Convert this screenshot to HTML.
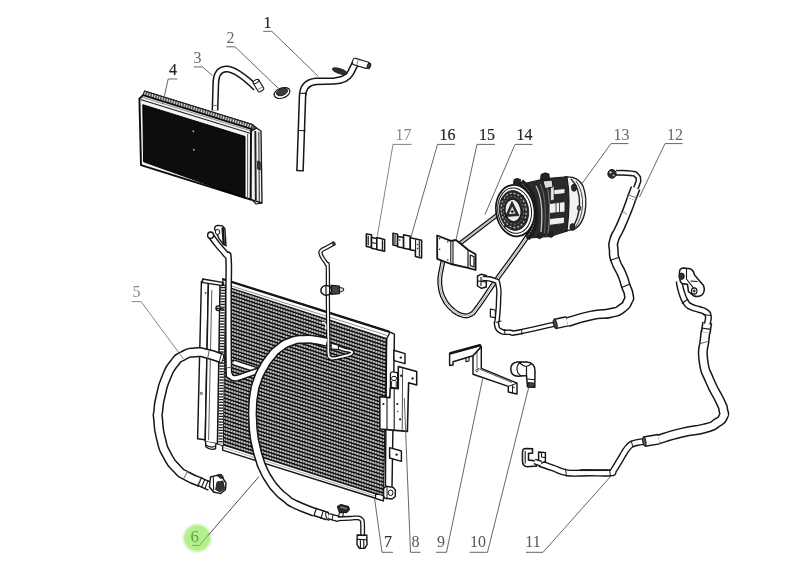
<!DOCTYPE html>
<html><head><meta charset="utf-8"><title>AC system diagram</title>
<style>
html,body{margin:0;padding:0;background:#fff;}
body{width:800px;height:587px;overflow:hidden;font-family:"Liberation Serif",serif;}
svg{display:block;}
text{font-family:"Liberation Serif",serif;}
</style></head><body>
<svg width="800" height="587" viewBox="0 0 800 587">
<defs>
<filter id="soft" x="-5%" y="-5%" width="110%" height="110%"><feGaussianBlur stdDeviation="0.45"/></filter>
<filter id="soft2" x="-20%" y="-20%" width="140%" height="140%"><feGaussianBlur stdDeviation="0.9"/></filter>
<filter id="soft3" x="-5%" y="-5%" width="110%" height="110%"><feGaussianBlur stdDeviation="0.25"/></filter>
</defs>
<rect width="800" height="587" fill="#fff"/>
<g filter="url(#soft)">
<polygon points="250.6,130 256.5,128 261,131 262,203 250.6,199.5" fill="#f2f2f2" stroke="#141414" stroke-width="1.32" stroke-linejoin="round" />
<path d="M255.3,131 L255.8,200.5" fill="none" stroke="#222" stroke-width="1.92" stroke-linejoin="round" />
<path d="M258.8,132 L259.3,202" fill="none" stroke="#333" stroke-width="1.08" stroke-linejoin="round" />
<polygon points="257.5,161 260.3,162 260.3,170 257.5,169" fill="#333" stroke="#141414" stroke-width="0.72" stroke-linejoin="round" />
<path d="M252,199.8 L256,204 L262,203" fill="none" stroke="#141414" stroke-width="1.2" stroke-linejoin="round" />
<polygon points="144.5,91 252.5,124.5 256.5,128 251,131.5 143,95.2" fill="#555" stroke="#141414" stroke-width="1.08" stroke-linejoin="round" />
<path d="M145.5,91.6 l-1.2,4" fill="none" stroke="#e2e2e2" stroke-width="1.08" stroke-linejoin="round" />
<path d="M148.0,92.4 l-1.2,4" fill="none" stroke="#e2e2e2" stroke-width="1.08" stroke-linejoin="round" />
<path d="M150.4,93.1 l-1.2,4" fill="none" stroke="#e2e2e2" stroke-width="1.08" stroke-linejoin="round" />
<path d="M152.9,93.9 l-1.2,4" fill="none" stroke="#e2e2e2" stroke-width="1.08" stroke-linejoin="round" />
<path d="M155.3,94.6 l-1.2,4" fill="none" stroke="#e2e2e2" stroke-width="1.08" stroke-linejoin="round" />
<path d="M157.8,95.4 l-1.2,4" fill="none" stroke="#e2e2e2" stroke-width="1.08" stroke-linejoin="round" />
<path d="M160.2,96.2 l-1.2,4" fill="none" stroke="#e2e2e2" stroke-width="1.08" stroke-linejoin="round" />
<path d="M162.7,96.9 l-1.2,4" fill="none" stroke="#e2e2e2" stroke-width="1.08" stroke-linejoin="round" />
<path d="M165.1,97.7 l-1.2,4" fill="none" stroke="#e2e2e2" stroke-width="1.08" stroke-linejoin="round" />
<path d="M167.6,98.5 l-1.2,4" fill="none" stroke="#e2e2e2" stroke-width="1.08" stroke-linejoin="round" />
<path d="M170.0,99.2 l-1.2,4" fill="none" stroke="#e2e2e2" stroke-width="1.08" stroke-linejoin="round" />
<path d="M172.5,100.0 l-1.2,4" fill="none" stroke="#e2e2e2" stroke-width="1.08" stroke-linejoin="round" />
<path d="M175.0,100.7 l-1.2,4" fill="none" stroke="#e2e2e2" stroke-width="1.08" stroke-linejoin="round" />
<path d="M177.4,101.5 l-1.2,4" fill="none" stroke="#e2e2e2" stroke-width="1.08" stroke-linejoin="round" />
<path d="M179.9,102.3 l-1.2,4" fill="none" stroke="#e2e2e2" stroke-width="1.08" stroke-linejoin="round" />
<path d="M182.3,103.0 l-1.2,4" fill="none" stroke="#e2e2e2" stroke-width="1.08" stroke-linejoin="round" />
<path d="M184.8,103.8 l-1.2,4" fill="none" stroke="#e2e2e2" stroke-width="1.08" stroke-linejoin="round" />
<path d="M187.2,104.5 l-1.2,4" fill="none" stroke="#e2e2e2" stroke-width="1.08" stroke-linejoin="round" />
<path d="M189.7,105.3 l-1.2,4" fill="none" stroke="#e2e2e2" stroke-width="1.08" stroke-linejoin="round" />
<path d="M192.1,106.1 l-1.2,4" fill="none" stroke="#e2e2e2" stroke-width="1.08" stroke-linejoin="round" />
<path d="M194.6,106.8 l-1.2,4" fill="none" stroke="#e2e2e2" stroke-width="1.08" stroke-linejoin="round" />
<path d="M197.0,107.6 l-1.2,4" fill="none" stroke="#e2e2e2" stroke-width="1.08" stroke-linejoin="round" />
<path d="M199.5,108.3 l-1.2,4" fill="none" stroke="#e2e2e2" stroke-width="1.08" stroke-linejoin="round" />
<path d="M202.0,109.1 l-1.2,4" fill="none" stroke="#e2e2e2" stroke-width="1.08" stroke-linejoin="round" />
<path d="M204.4,109.9 l-1.2,4" fill="none" stroke="#e2e2e2" stroke-width="1.08" stroke-linejoin="round" />
<path d="M206.9,110.6 l-1.2,4" fill="none" stroke="#e2e2e2" stroke-width="1.08" stroke-linejoin="round" />
<path d="M209.3,111.4 l-1.2,4" fill="none" stroke="#e2e2e2" stroke-width="1.08" stroke-linejoin="round" />
<path d="M211.8,112.2 l-1.2,4" fill="none" stroke="#e2e2e2" stroke-width="1.08" stroke-linejoin="round" />
<path d="M214.2,112.9 l-1.2,4" fill="none" stroke="#e2e2e2" stroke-width="1.08" stroke-linejoin="round" />
<path d="M216.7,113.7 l-1.2,4" fill="none" stroke="#e2e2e2" stroke-width="1.08" stroke-linejoin="round" />
<path d="M219.1,114.4 l-1.2,4" fill="none" stroke="#e2e2e2" stroke-width="1.08" stroke-linejoin="round" />
<path d="M221.6,115.2 l-1.2,4" fill="none" stroke="#e2e2e2" stroke-width="1.08" stroke-linejoin="round" />
<path d="M224.0,116.0 l-1.2,4" fill="none" stroke="#e2e2e2" stroke-width="1.08" stroke-linejoin="round" />
<path d="M226.5,116.7 l-1.2,4" fill="none" stroke="#e2e2e2" stroke-width="1.08" stroke-linejoin="round" />
<path d="M229.0,117.5 l-1.2,4" fill="none" stroke="#e2e2e2" stroke-width="1.08" stroke-linejoin="round" />
<path d="M231.4,118.2 l-1.2,4" fill="none" stroke="#e2e2e2" stroke-width="1.08" stroke-linejoin="round" />
<path d="M233.9,119.0 l-1.2,4" fill="none" stroke="#e2e2e2" stroke-width="1.08" stroke-linejoin="round" />
<path d="M236.3,119.8 l-1.2,4" fill="none" stroke="#e2e2e2" stroke-width="1.08" stroke-linejoin="round" />
<path d="M238.8,120.5 l-1.2,4" fill="none" stroke="#e2e2e2" stroke-width="1.08" stroke-linejoin="round" />
<path d="M241.2,121.3 l-1.2,4" fill="none" stroke="#e2e2e2" stroke-width="1.08" stroke-linejoin="round" />
<path d="M243.7,122.1 l-1.2,4" fill="none" stroke="#e2e2e2" stroke-width="1.08" stroke-linejoin="round" />
<path d="M246.1,122.8 l-1.2,4" fill="none" stroke="#e2e2e2" stroke-width="1.08" stroke-linejoin="round" />
<path d="M248.6,123.6 l-1.2,4" fill="none" stroke="#e2e2e2" stroke-width="1.08" stroke-linejoin="round" />
<path d="M251.0,124.3 l-1.2,4" fill="none" stroke="#e2e2e2" stroke-width="1.08" stroke-linejoin="round" />
<path d="M144.5,91 L252.5,124.5" fill="none" stroke="#222" stroke-width="1.2" stroke-linejoin="round" />
<polygon points="139.4,98.7 143,95.2 251,128.8 250.6,199.5 141,165.2" fill="#f4f4f4" stroke="#111" stroke-width="1.92" stroke-linejoin="round" />
<path d="M140.5,99.5 L250,133.2" fill="none" stroke="#222" stroke-width="1.2" stroke-linejoin="round" />
<path d="M141.5,97 L250.5,130.8" fill="none" stroke="#777" stroke-width="0.84" stroke-linejoin="round" />
<polygon points="142.8,104.7 245,136.5 245,198 143.6,161.8" fill="#080808" stroke="#000" stroke-width="0.96" stroke-linejoin="round" />
<path d="M247.6,134 L247.6,198.5" fill="none" stroke="#555" stroke-width="0.96" stroke-linejoin="round" />
<circle cx="193.3" cy="131.2" r="1" fill="#aaa"/><circle cx="193.8" cy="149.8" r="1" fill="#aaa"/>
<path d="M215,110.5 L215.8,84 Q216,69.5 226,69 Q236,68.5 256,88" fill="none" stroke="#141414" stroke-width="6.8999999999999995" stroke-linecap="butt" stroke-linejoin="round"/>
<path d="M215,110.5 L215.8,84 Q216,69.5 226,69 Q236,68.5 256,88" fill="none" stroke="#fff" stroke-width="3.9099999999999997" stroke-linecap="butt" stroke-linejoin="round"/>
<path d="M212.5,105.3 L218,105.6" fill="none" stroke="#666" stroke-width="0.96" stroke-linejoin="round" />
<g transform="rotate(59 255.5 80.5)">
<rect x="255.5" y="77.4" width="12" height="6.4" rx="1.5" fill="#fff" stroke="#1c1c1c" stroke-width="1.15"/>
<ellipse cx="256.6" cy="80.6" rx="1.6" ry="3.2" transform="rotate(0 256.6 80.6)" fill="#fff" stroke="#141414" stroke-width="1.0"/>
<path d="M264.5,78 L264.5,83.5" fill="none" stroke="#777" stroke-width="0.84" stroke-linejoin="round" />
</g>
<ellipse cx="282" cy="93" rx="8.2" ry="5" transform="rotate(-20 282 93)" fill="#fff" stroke="#141414" stroke-width="1.2"/>
<ellipse cx="282" cy="92" rx="5.8" ry="3.4" transform="rotate(-20 282 92)" fill="#3a3a3a" stroke="#141414" stroke-width="0.8"/>
<path d="M300,170.8 L302.5,97 Q302.6,82.5 316,81.3 L334,81 Q346,80.5 350.5,73 L355.5,63" fill="none" stroke="#141414" stroke-width="7.7" stroke-linecap="butt" stroke-linejoin="round"/>
<path d="M300,170.8 L302.5,97 Q302.6,82.5 316,81.3 L334,81 Q346,80.5 350.5,73 L355.5,63" fill="none" stroke="#fff" stroke-width="4.710000000000001" stroke-linecap="butt" stroke-linejoin="round"/>
<path d="M296.4,170.5 L303.8,170.9" fill="none" stroke="#141414" stroke-width="1.32" stroke-linejoin="round" />
<path d="M298.5,130.5 L305.6,130.8" fill="none" stroke="#141414" stroke-width="1.08" stroke-linejoin="round" />
<path d="M299,93.2 L306.3,93.4" fill="none" stroke="#141414" stroke-width="1.08" stroke-linejoin="round" />
<g transform="rotate(17 356 62)">
<rect x="352.5" y="58.6" width="17" height="6.6" rx="2.2" fill="#fff" stroke="#1c1c1c" stroke-width="1.15"/>
<ellipse cx="369.5" cy="61.9" rx="1.7" ry="3.1" transform="rotate(0 369.5 61.9)" fill="#3a3a3a" stroke="#141414" stroke-width="0.9"/>
<path d="M357.5,59 L357.5,65" fill="none" stroke="#777" stroke-width="0.84" stroke-linejoin="round" />
</g>
<ellipse cx="339.8" cy="71.2" rx="7.8" ry="2.5" transform="rotate(18 339.8 71.2)" fill="#2e2e2e" stroke="#141414" stroke-width="0.8"/>
<polygon points="366.3,234 371.5,234.8 371.5,247.6 366.3,246.6" fill="#fff" stroke="#141414" stroke-width="1.56" stroke-linejoin="round" />
<polygon points="371.5,237.6 376.8,238.6 376.8,249.2 371.5,248.2" fill="#fff" stroke="#141414" stroke-width="1.56" stroke-linejoin="round" />
<polygon points="376.8,237.6 384.6,239.4 384.6,251.2 376.8,249.6" fill="#fff" stroke="#141414" stroke-width="1.56" stroke-linejoin="round" />
<path d="M368.2,236 L368.2,245.2 M382.4,240.2 L382.4,250" fill="none" stroke="#141414" stroke-width="1.2" stroke-linejoin="round" />
<path d="M371.5,242.5 L376.8,243.5" fill="none" stroke="#141414" stroke-width="1.08" stroke-linejoin="round" />
<polygon points="393,233.3 397.6,234.3 397.6,246 393,245" fill="#fff" stroke="#141414" stroke-width="1.56" stroke-linejoin="round" />
<polygon points="397.6,236.4 403.6,237.6 403.6,248 397.6,246.8" fill="#fff" stroke="#141414" stroke-width="1.56" stroke-linejoin="round" />
<polygon points="403.6,234.8 410.3,236.3 410.3,249.6 403.6,248.3" fill="#fff" stroke="#141414" stroke-width="1.56" stroke-linejoin="round" />
<polygon points="410.3,237.8 421.6,240.2 421.6,258 415.4,256.6 415.4,250.8 410.3,249.8" fill="#fff" stroke="#141414" stroke-width="1.56" stroke-linejoin="round" />
<path d="M395,235 L395,244.5 M415.6,239.5 L415.6,251 M419.3,240.5 L419.3,256.5" fill="none" stroke="#141414" stroke-width="1.08" stroke-linejoin="round" />
<circle cx="399.8" cy="240" r="0.8" fill="#222"/><circle cx="417.6" cy="244.5" r="0.7" fill="#222"/><circle cx="417.6" cy="248.5" r="0.7" fill="#222"/>
<path d="M443.6,258.0 C442.9,261.3 442.8,262.0 441.6,268.0 C440.4,274.0 440.7,271.7 440.1,276.0 C439.5,280.3 439.8,277.7 439.8,281.0 C439.8,284.3 439.5,282.0 440.1,286.0 C440.7,290.0 440.2,288.6 441.5,293.0 C442.8,297.4 442.1,295.2 444.1,299.1 C446.1,303.0 444.9,301.2 447.6,304.6 C450.3,308.0 449.1,306.6 452.1,309.3 C455.1,312.0 453.4,310.9 456.6,312.8 C459.8,314.7 458.6,314.0 461.6,315.0 C464.6,316.0 463.0,315.7 465.5,315.8 C468.0,315.9 466.8,316.0 469.1,315.2 C471.4,314.4 470.4,314.9 472.4,313.3 C474.4,311.7 471.1,315.8 475.1,310.5 C479.1,305.2 477.9,307.0 484.5,297.4 C491.1,287.8 485.7,295.1 495.0,281.8 C504.3,268.5 501.8,272.5 512.5,257.6 C523.2,242.7 522.2,243.9 527.0,237.0" fill="none" stroke="#141414" stroke-width="4.8999999999999995" stroke-linecap="butt" stroke-linejoin="round"/>
<path d="M443.6,258.0 C442.9,261.3 442.8,262.0 441.6,268.0 C440.4,274.0 440.7,271.7 440.1,276.0 C439.5,280.3 439.8,277.7 439.8,281.0 C439.8,284.3 439.5,282.0 440.1,286.0 C440.7,290.0 440.2,288.6 441.5,293.0 C442.8,297.4 442.1,295.2 444.1,299.1 C446.1,303.0 444.9,301.2 447.6,304.6 C450.3,308.0 449.1,306.6 452.1,309.3 C455.1,312.0 453.4,310.9 456.6,312.8 C459.8,314.7 458.6,314.0 461.6,315.0 C464.6,316.0 463.0,315.7 465.5,315.8 C468.0,315.9 466.8,316.0 469.1,315.2 C471.4,314.4 470.4,314.9 472.4,313.3 C474.4,311.7 471.1,315.8 475.1,310.5 C479.1,305.2 477.9,307.0 484.5,297.4 C491.1,287.8 485.7,295.1 495.0,281.8 C504.3,268.5 501.8,272.5 512.5,257.6 C523.2,242.7 522.2,243.9 527.0,237.0" fill="none" stroke="#fff" stroke-width="2.2999999999999994" stroke-linecap="butt" stroke-linejoin="round"/>
<path d="M443.6,258.0 C442.9,261.3 442.8,262.0 441.6,268.0 C440.4,274.0 440.7,271.7 440.1,276.0 C439.5,280.3 439.8,277.7 439.8,281.0 C439.8,284.3 439.5,282.0 440.1,286.0 C440.7,290.0 440.2,288.6 441.5,293.0 C442.8,297.4 442.1,295.2 444.1,299.1 C446.1,303.0 444.9,301.2 447.6,304.6 C450.3,308.0 449.1,306.6 452.1,309.3 C455.1,312.0 453.4,310.9 456.6,312.8 C459.8,314.7 458.6,314.0 461.6,315.0 C464.6,316.0 463.0,315.7 465.5,315.8 C468.0,315.9 466.8,316.0 469.1,315.2 C471.4,314.4 470.4,314.9 472.4,313.3 C474.4,311.7 471.1,315.8 475.1,310.5 C479.1,305.2 477.9,307.0 484.5,297.4 C491.1,287.8 485.7,295.1 495.0,281.8 C504.3,268.5 501.8,272.5 512.5,257.6 C523.2,242.7 522.2,243.9 527.0,237.0" fill="none" stroke="#777" stroke-width="0.72" stroke-linejoin="round" />
<path d="M456,246.5 L498.5,214" fill="none" stroke="#141414" stroke-width="4.5" stroke-linecap="butt" stroke-linejoin="round"/>
<path d="M456,246.5 L498.5,214" fill="none" stroke="#fff" stroke-width="1.9" stroke-linecap="butt" stroke-linejoin="round"/>
<path d="M456,246.5 L498.5,214" fill="none" stroke="#777" stroke-width="0.72" stroke-linejoin="round" />
<polygon points="477.5,276 481,274.3 486.3,275.5 486.3,287 481.5,288.3 477.5,286" fill="#fff" stroke="#141414" stroke-width="1.44" stroke-linejoin="round" />
<path d="M481,277 L481,286 M478,281 L486,282" fill="none" stroke="#141414" stroke-width="1.08" stroke-linejoin="round" />
<path d="M482.8,278.3 C486.2,278.9 489.5,278.0 494.1,280.2 C498.7,282.4 496.8,279.7 498.2,285.6 C499.6,291.5 498.8,290.3 498.6,300.0 C498.4,309.7 498.0,310.6 497.4,318.0 C496.8,325.4 495.6,320.6 496.6,324.5 C497.6,328.4 496.6,328.7 500.6,331.0 C504.6,333.3 504.3,332.0 510.0,332.3 C515.7,332.6 506.1,334.5 519.5,332.0 C532.9,329.5 544.0,326.5 554.5,324.1" fill="none" stroke="#141414" stroke-width="5.5" stroke-linecap="butt" stroke-linejoin="round"/>
<path d="M482.8,278.3 C486.2,278.9 489.5,278.0 494.1,280.2 C498.7,282.4 496.8,279.7 498.2,285.6 C499.6,291.5 498.8,290.3 498.6,300.0 C498.4,309.7 498.0,310.6 497.4,318.0 C496.8,325.4 495.6,320.6 496.6,324.5 C497.6,328.4 496.6,328.7 500.6,331.0 C504.6,333.3 504.3,332.0 510.0,332.3 C515.7,332.6 506.1,334.5 519.5,332.0 C532.9,329.5 544.0,326.5 554.5,324.1" fill="none" stroke="#fff" stroke-width="2.7699999999999996" stroke-linecap="butt" stroke-linejoin="round"/>
<polygon points="490.4,309.2 495.4,310 495.4,317.6 490.4,316.8" fill="#fff" stroke="#141414" stroke-width="1.2" stroke-linejoin="round" />
<path d="M495.5,322.5 L501.5,321 M504.5,329 L505,334.6 M521.5,329.3 L522,334.6" fill="none" stroke="#141414" stroke-width="0.96" stroke-linejoin="round" />
<polygon points="437.2,235.5 450.8,240.8 456,240 468,249.8 475.6,254.2 475.6,270 468,267.8 450.8,264 437.2,258.8" fill="#fff" stroke="#141414" stroke-width="1.7999999999999998" stroke-linejoin="round" />
<path d="M450.8,240.8 L450.8,264 M453,241 L453,264.5" fill="none" stroke="#141414" stroke-width="1.08" stroke-linejoin="round" />
<path d="M468,249.8 L468,267.8" fill="none" stroke="#141414" stroke-width="1.2" stroke-linejoin="round" />
<polygon points="470.2,255 474,256.6 474,267 470.2,265.6" fill="#fff" stroke="#141414" stroke-width="1.2" stroke-linejoin="round" />
<circle cx="439.6" cy="238.6" r="0.8" fill="#222"/><circle cx="439.6" cy="249.2" r="0.8" fill="#222"/><circle cx="447.8" cy="241.8" r="0.8" fill="#222"/><circle cx="447.8" cy="260" r="0.8" fill="#222"/>
<path d="M554.5,324.1 L567.3,321.3" fill="none" stroke="#141414" stroke-width="10.700000000000001" stroke-linecap="butt" stroke-linejoin="round"/>
<path d="M554.5,324.1 L567.3,321.3" fill="none" stroke="#fff" stroke-width="7.840000000000001" stroke-linecap="butt" stroke-linejoin="round"/>
<ellipse cx="555.2" cy="324" rx="1.8" ry="4.6" transform="rotate(-12 555.2 324)" fill="#444" stroke="#141414" stroke-width="0.9"/>
<path d="M567.3,322.2 C575.2,320.0 576.5,318.7 591.0,315.6 C605.5,312.5 600.4,315.4 610.7,313.0 C621.0,310.6 616.1,312.4 621.8,308.5 C627.5,304.6 625.5,305.9 627.8,301.4 C630.1,296.9 629.5,300.3 628.8,295.0 C628.1,289.7 628.0,292.5 625.7,285.5 C623.4,278.5 625.2,282.3 621.8,274.1 C618.4,265.9 618.3,269.0 615.6,261.0 C612.9,253.0 614.2,257.0 613.7,250.0 C613.2,243.0 612.2,247.3 614.2,240.0 C616.2,232.7 615.5,237.7 619.8,228.0 C624.1,218.3 623.1,220.7 627.0,211.0 C630.9,201.3 629.9,203.0 631.4,199.0" fill="none" stroke="#141414" stroke-width="10.100000000000001" stroke-linecap="butt" stroke-linejoin="round"/>
<path d="M567.3,322.2 C575.2,320.0 576.5,318.7 591.0,315.6 C605.5,312.5 600.4,315.4 610.7,313.0 C621.0,310.6 616.1,312.4 621.8,308.5 C627.5,304.6 625.5,305.9 627.8,301.4 C630.1,296.9 629.5,300.3 628.8,295.0 C628.1,289.7 628.0,292.5 625.7,285.5 C623.4,278.5 625.2,282.3 621.8,274.1 C618.4,265.9 618.3,269.0 615.6,261.0 C612.9,253.0 614.2,257.0 613.7,250.0 C613.2,243.0 612.2,247.3 614.2,240.0 C616.2,232.7 615.5,237.7 619.8,228.0 C624.1,218.3 623.1,220.7 627.0,211.0 C630.9,201.3 629.9,203.0 631.4,199.0" fill="none" stroke="#fff" stroke-width="7.110000000000001" stroke-linecap="butt" stroke-linejoin="round"/>
<path d="M635.4,189.0 C636.1,187.2 636.6,186.7 637.6,183.5 C638.6,180.3 638.8,182.2 638.4,179.5 C638.0,176.8 639.0,177.5 636.5,175.4 C634.0,173.3 637.8,174.2 631.0,173.3 C624.2,172.4 621.0,173.0 616.0,172.8" fill="none" stroke="#141414" stroke-width="5.8999999999999995" stroke-linecap="butt" stroke-linejoin="round"/>
<path d="M635.4,189.0 C636.1,187.2 636.6,186.7 637.6,183.5 C638.6,180.3 638.8,182.2 638.4,179.5 C638.0,176.8 639.0,177.5 636.5,175.4 C634.0,173.3 637.8,174.2 631.0,173.3 C624.2,172.4 621.0,173.0 616.0,172.8" fill="none" stroke="#fff" stroke-width="3.039999999999999" stroke-linecap="butt" stroke-linejoin="round"/>
<path d="M631.4,199 L635.6,188" fill="none" stroke="#141414" stroke-width="10.3" stroke-linecap="butt" stroke-linejoin="round"/>
<path d="M631.4,199 L635.6,188" fill="none" stroke="#fff" stroke-width="7.3100000000000005" stroke-linecap="butt" stroke-linejoin="round"/>
<path d="M627.2,194.4 L637,198.2" fill="none" stroke="#666" stroke-width="0.96" stroke-linejoin="round" />
<path d="M609.8,260.5 L618.6,257.6 M621,287.8 L630,284" fill="none" stroke="#141414" stroke-width="1.08" stroke-linejoin="round" />
<path d="M620,213.5 L624.5,212 L626.5,215" fill="none" stroke="#777" stroke-width="0.84" stroke-linejoin="round" />
<ellipse cx="612" cy="173.8" rx="4.2" ry="4.4" transform="rotate(0 612 173.8)" fill="#2a2a2a" stroke="#141414" stroke-width="0.9"/>
<ellipse cx="610.6" cy="172.4" rx="1.4" ry="1.4" transform="rotate(0 610.6 172.4)" fill="#ddd" stroke="#141414" stroke-width="0.5"/>
<ellipse cx="613.6" cy="175.4" rx="1.2" ry="1.2" transform="rotate(0 613.6 175.4)" fill="#ccc" stroke="#141414" stroke-width="0.5"/>
<path d="M565,177 Q578,176 583,186 Q587.5,198 585,212 Q582.5,224 575,229 L566,231 Z" fill="#f2f2f2" stroke="#1a1a1a" stroke-width="1.3"/>
<path d="M571,179 Q580,188 579.5,204 Q579,220 571,229.5" fill="none" stroke="#222" stroke-width="1.4"/>
<path d="M576,181 Q583.5,192 582.5,206 Q581.5,219 575.5,227" fill="none" stroke="#333" stroke-width="0.9"/>
<ellipse cx="574" cy="187.7" rx="2.6" ry="3.6" transform="rotate(0 574 187.7)" fill="#2a2a2a" stroke="#141414" stroke-width="0.8"/>
<ellipse cx="572.5" cy="227" rx="2.6" ry="3.4" transform="rotate(0 572.5 227)" fill="#2a2a2a" stroke="#141414" stroke-width="0.8"/>
<ellipse cx="579" cy="208" rx="1.8" ry="2.6" transform="rotate(0 579 208)" fill="#555" stroke="#141414" stroke-width="0.7"/>
<path d="M522,184 L546,178.5 L567,177 Q571,200 567,231 L550,236.5 L527,238 Z" fill="#2b2b2b" stroke="#1a1a1a" stroke-width="1.2"/>
<polygon points="551.2,189.8 565,188.6 565,193.6 551.2,195" fill="#f0f0f0" stroke="#141414" stroke-width="0.84" stroke-linejoin="round" />
<polygon points="549.3,203.6 565,201.6 565,212 549.3,213.4" fill="#f0f0f0" stroke="#141414" stroke-width="0.84" stroke-linejoin="round" />
<polygon points="549.3,218.6 564.4,217 564.4,223.4 549.3,225.4" fill="#f0f0f0" stroke="#141414" stroke-width="0.84" stroke-linejoin="round" />
<path d="M556,203 L556,213 M559.5,202.5 L559.5,212.5" fill="none" stroke="#444" stroke-width="0.96" stroke-linejoin="round" />
<path d="M536,186 Q544,200 541,232" fill="none" stroke="#c8c8c8" stroke-width="1.3"/>
<path d="M540.5,184 Q547.5,200 544.5,233" fill="none" stroke="#777" stroke-width="0.8"/>
<polygon points="550.6,186 554,185.6 554,200 550.6,200.6" fill="#e8e8e8" stroke="#141414" stroke-width="0.6" stroke-linejoin="round" />
<path d="M546,181 Q552,204 548,234" fill="none" stroke="#8a8a8a" stroke-width="0.9"/>
<path d="M540.5,180 L541,174.5 Q545,171.5 549,174 L549.5,180 Z" fill="#222" stroke="#111" stroke-width="0.8"/>
<path d="M513.5,184 L514,179.5 Q517,177.5 520.5,179.5 L521,185 Z" fill="#222" stroke="#111" stroke-width="0.8"/>
<polygon points="543,181 552,180 553,187 545,188.5" fill="#ddd" stroke="#141414" stroke-width="0.96" stroke-linejoin="round" />
<ellipse cx="551" cy="234.5" rx="2.6" ry="3" transform="rotate(0 551 234.5)" fill="#222" stroke="#141414" stroke-width="0.6"/>
<ellipse cx="539.5" cy="236" rx="2.4" ry="2.8" transform="rotate(0 539.5 236)" fill="#222" stroke="#141414" stroke-width="0.6"/>
<path d="M521,182 Q537,196 534.5,222 Q533,232 527,238" fill="none" stroke="#1a1a1a" stroke-width="6.5"/>
<path d="M522,183.5 Q536.5,197 534,221 Q532.5,231 527,236.5" fill="none" stroke="#bbb" stroke-width="0.9" stroke-dasharray="1.5 1.5"/>
<ellipse cx="515.2" cy="210.6" rx="19.2" ry="25.8" transform="rotate(-8 515.2 210.6)" fill="#fff" stroke="#141414" stroke-width="1.7"/>
<ellipse cx="514.6" cy="210.6" rx="16.8" ry="22.8" transform="rotate(-8 514.6 210.6)" fill="#fff" stroke="#141414" stroke-width="1.0"/>
<ellipse cx="514" cy="210.5" rx="14.6" ry="20" transform="rotate(-8 514 210.5)" fill="#2c2c2c" stroke="#141414" stroke-width="0.8"/>
<ellipse cx="513.7" cy="210.4" rx="12.4" ry="17.2" transform="rotate(-8 513.7 210.4)" fill="none" stroke="#b0b0b0" stroke-width="1.3" stroke-dasharray="2.2 1.8"/>
<ellipse cx="513.5" cy="210.4" rx="10" ry="14" transform="rotate(-8 513.5 210.4)" fill="none" stroke="#8a8a8a" stroke-width="0.9" stroke-dasharray="1.5 2.2"/>
<ellipse cx="513" cy="210.5" rx="8" ry="11.2" transform="rotate(-8 513 210.5)" fill="#ececec" stroke="#141414" stroke-width="1.0"/>
<path d="M512,201.6 L519,215.6 L505.6,216.4 Z" fill="#2a2a2a" stroke="#111" stroke-width="0.8" stroke-linejoin="round"/>
<path d="M512.2,206.6 L515.4,213.6 L509,214 Z" fill="#e8e8e8"/>
<circle cx="512.3" cy="211.6" r="1.4" fill="#222"/>
<circle cx="502.6" cy="199" r="1.6" fill="#222"/>
<circle cx="522.4" cy="196.4" r="1.6" fill="#222"/>
<circle cx="525.4" cy="220" r="1.6" fill="#222"/>
<circle cx="505.6" cy="226" r="1.6" fill="#222"/>
<path d="M539.5,463.3 C542.2,464.2 547.4,466.1 553.0,468.0 C558.6,469.9 560.3,471.9 567.5,472.9 C574.7,473.9 580.4,472.9 589.0,472.9 C597.6,472.9 605.5,473.4 610.4,472.9 C615.3,472.4 611.6,473.1 613.5,470.5 C615.4,467.9 617.2,464.5 620.0,460.0 C622.8,455.5 624.7,451.3 627.5,448.0 C630.3,444.7 630.4,444.6 634.0,443.3 C637.6,442.0 643.1,441.8 645.4,441.4" fill="none" stroke="#141414" stroke-width="7.1" stroke-linecap="butt" stroke-linejoin="round"/>
<path d="M539.5,463.3 C542.2,464.2 547.4,466.1 553.0,468.0 C558.6,469.9 560.3,471.9 567.5,472.9 C574.7,473.9 580.4,472.9 589.0,472.9 C597.6,472.9 605.5,473.4 610.4,472.9 C615.3,472.4 611.6,473.1 613.5,470.5 C615.4,467.9 617.2,464.5 620.0,460.0 C622.8,455.5 624.7,451.3 627.5,448.0 C630.3,444.7 630.4,444.6 634.0,443.3 C637.6,442.0 643.1,441.8 645.4,441.4" fill="none" stroke="#fff" stroke-width="4.369999999999999" stroke-linecap="butt" stroke-linejoin="round"/>
<path d="M565.5,468.5 L566.5,476.5 M609.5,469 L610.5,476.8 M631,440.5 L633,447" fill="none" stroke="#141414" stroke-width="0.96" stroke-linejoin="round" />
<path d="M580,470.2 L608,470.2" fill="none" stroke="#141414" stroke-width="1.68" stroke-linejoin="round" />
<path d="M644,441.6 L659,439.2" fill="none" stroke="#141414" stroke-width="10.9" stroke-linecap="butt" stroke-linejoin="round"/>
<path d="M644,441.6 L659,439.2" fill="none" stroke="#fff" stroke-width="8.04" stroke-linecap="butt" stroke-linejoin="round"/>
<ellipse cx="644.3" cy="441.5" rx="1.6" ry="4.6" transform="rotate(-9 644.3 441.5)" fill="#555" stroke="#141414" stroke-width="0.9"/>
<path d="M658.8,439.3 C666.3,437.1 666.0,436.5 681.3,432.8 C696.6,429.1 692.9,431.6 704.8,428.3 C716.7,425.0 711.0,426.7 717.1,422.8 C723.2,418.9 721.1,420.8 723.2,416.7 C725.3,412.6 724.4,415.6 723.4,410.5 C722.4,405.4 724.7,411.2 720.2,401.3 C715.7,391.4 715.5,394.5 709.9,380.9 C704.3,367.3 705.2,374.0 703.4,360.4 C701.6,346.8 703.7,350.1 704.6,340.0 C705.5,329.9 705.5,333.3 706.0,330.0" fill="none" stroke="#141414" stroke-width="10.100000000000001" stroke-linecap="butt" stroke-linejoin="round"/>
<path d="M658.8,439.3 C666.3,437.1 666.0,436.5 681.3,432.8 C696.6,429.1 692.9,431.6 704.8,428.3 C716.7,425.0 711.0,426.7 717.1,422.8 C723.2,418.9 721.1,420.8 723.2,416.7 C725.3,412.6 724.4,415.6 723.4,410.5 C722.4,405.4 724.7,411.2 720.2,401.3 C715.7,391.4 715.5,394.5 709.9,380.9 C704.3,367.3 705.2,374.0 703.4,360.4 C701.6,346.8 703.7,350.1 704.6,340.0 C705.5,329.9 705.5,333.3 706.0,330.0" fill="none" stroke="#fff" stroke-width="7.110000000000001" stroke-linecap="butt" stroke-linejoin="round"/>
<path d="M699,344 L707.5,341.5" fill="none" stroke="#555" stroke-width="0.96" stroke-linejoin="round" />
<path d="M705.8,332.5 L707.2,322.5" fill="none" stroke="#141414" stroke-width="10.100000000000001" stroke-linecap="butt" stroke-linejoin="round"/>
<path d="M705.8,332.5 L707.2,322.5" fill="none" stroke="#fff" stroke-width="7.110000000000001" stroke-linecap="butt" stroke-linejoin="round"/>
<path d="M701.3,328 L710.8,329.4" fill="none" stroke="#141414" stroke-width="1.2" stroke-linejoin="round" />
<path d="M679.0,281.0 C679.8,284.3 679.5,285.8 681.5,292.0 C683.5,298.2 682.8,297.2 685.5,301.6 C688.2,306.0 686.6,304.3 690.6,306.6 C694.6,308.9 694.5,307.8 699.0,309.4 C703.5,311.0 702.7,309.8 705.5,311.9 C708.3,314.0 707.8,312.9 708.3,316.5 C708.8,320.1 707.5,321.8 707.2,324.0" fill="none" stroke="#141414" stroke-width="7.1" stroke-linecap="butt" stroke-linejoin="round"/>
<path d="M679.0,281.0 C679.8,284.3 679.5,285.8 681.5,292.0 C683.5,298.2 682.8,297.2 685.5,301.6 C688.2,306.0 686.6,304.3 690.6,306.6 C694.6,308.9 694.5,307.8 699.0,309.4 C703.5,311.0 702.7,309.8 705.5,311.9 C708.3,314.0 707.8,312.9 708.3,316.5 C708.8,320.1 707.5,321.8 707.2,324.0" fill="none" stroke="#fff" stroke-width="4.239999999999999" stroke-linecap="butt" stroke-linejoin="round"/>
<path d="M681.8,303.5 L688.2,299 M702.5,314.5 L711,315.5" fill="none" stroke="#141414" stroke-width="1.08" stroke-linejoin="round" />
<path d="M679.5,272 Q679.5,268 684,268 L690,268.8 Q693.5,270 694.5,275 L703.5,285.5 Q705.5,291 702.5,294.5 Q699,297.5 694,296 L688.5,291.5 L687.5,284.5 L682,283.5 Q679,281 679.5,272 Z" fill="#fff" stroke="#141414" stroke-width="1.5"/>
<ellipse cx="681.6" cy="276.3" rx="2.7" ry="3.2" transform="rotate(0 681.6 276.3)" fill="#333" stroke="#141414" stroke-width="0.9"/>
<ellipse cx="694.2" cy="291" rx="2.8" ry="3.1" transform="rotate(0 694.2 291)" fill="#fff" stroke="#141414" stroke-width="1.1"/>
<ellipse cx="694.2" cy="291" rx="1.1" ry="1.3" transform="rotate(0 694.2 291)" fill="#444" stroke="#141414" stroke-width="0.5"/>
<path d="M686.5,269 L686.5,279 L693.5,288 M690.5,281 L697.5,281.5" fill="none" stroke="#141414" stroke-width="1.08" stroke-linejoin="round" />
<path d="M522.5,452 Q522.5,448.5 526,448.5 L532.5,448.8 L532.5,453 L528.5,453.5 L528.5,460 L535.5,461 L536.5,466 L527,466.8 Q522.5,466 522.5,461 Z" fill="#fff" stroke="#141414" stroke-width="1.5"/>
<path d="M525.2,451 L525.2,463.5" fill="none" stroke="#141414" stroke-width="1.08" stroke-linejoin="round" />
<polygon points="538.6,452 545.4,452.6 545.4,461.5 540,463.5 538.6,460.5" fill="#fff" stroke="#141414" stroke-width="1.44" stroke-linejoin="round" />
<path d="M541.5,453 L541.5,457 L545,457.5" fill="none" stroke="#141414" stroke-width="1.08" stroke-linejoin="round" />
<path d="M534.5,461.5 L541,463.6" fill="none" stroke="#141414" stroke-width="5.8999999999999995" stroke-linecap="butt" stroke-linejoin="round"/>
<path d="M534.5,461.5 L541,463.6" fill="none" stroke="#fff" stroke-width="3.2999999999999994" stroke-linecap="butt" stroke-linejoin="round"/>
<polygon points="473,355.8 481.3,346.5 481.3,368.3 517,383.2 517,394 508.3,392 508.3,386.4 473,374.2" fill="#fff" stroke="#141414" stroke-width="1.44" stroke-linejoin="round" />
<path d="M477,368 L512,382.5" fill="none" stroke="#555" stroke-width="0.96" stroke-linejoin="round" />
<path d="M477,352 L477,368" fill="none" stroke="#555" stroke-width="0.96" stroke-linejoin="round" />
<path d="M508.3,386.4 L517,383.2 M512.5,385 L512.5,393" fill="none" stroke="#141414" stroke-width="0.96" stroke-linejoin="round" />
<circle cx="477" cy="370.5" r="1.3" fill="#fff" stroke="#222" stroke-width="0.8"/>
<circle cx="514" cy="387.5" r="0.8" fill="#222"/>
<polygon points="449.6,353.6 480.6,345.3 481.3,346.5 473,355.8 453,361.8 453,365 449.6,365.5" fill="#fff" stroke="#141414" stroke-width="1.44" stroke-linejoin="round" />
<path d="M449.6,353.4 L480.8,345" fill="none" stroke="#141414" stroke-width="2.64" stroke-linejoin="round" />
<polygon points="466,358 469,357.2 469,361 466,361.6" fill="#fff" stroke="#141414" stroke-width="1.08" stroke-linejoin="round" />
<path d="M517,362 Q510.5,363 510.8,369.5 Q511.2,376 518,376.3 L526.5,375.5 L527.5,386.8 L534.8,387.3 L535,371 Q535,362.8 527,362 Z" fill="#fff" stroke="#141414" stroke-width="1.5"/>
<path d="M521.5,362 Q516.5,364 517,369.5 Q517.5,374.5 522,376" fill="none" stroke="#141414" stroke-width="1.1"/>
<path d="M519,362.5 Q523,366 526,366.5 Q529,366 531.5,363.5" fill="none" stroke="#141414" stroke-width="1.1"/>
<path d="M526.5,367 L526.5,375.5" fill="none" stroke="#141414" stroke-width="1.2" stroke-linejoin="round" />
<path d="M527.3,379 L534.8,379.8" fill="none" stroke="#141414" stroke-width="1.08" stroke-linejoin="round" />
<polygon points="528,382.6 533.8,383 533.8,387.3 528,386.9" fill="#444" stroke="#141414" stroke-width="0.96" stroke-linejoin="round" />
<polygon points="386.6,338 389,331.7 394.4,334.2 392,488 385.4,487" fill="#fff" stroke="#141414" stroke-width="1.44" stroke-linejoin="round" />
<polygon points="393.8,350.2 405,353.6 405,363.6 394,360.6" fill="#fff" stroke="#141414" stroke-width="1.44" stroke-linejoin="round" />
<circle cx="400.8" cy="357.6" r="1.2" fill="#222"/>
<polygon points="389.6,447.6 401.4,451 401.4,461.4 389.6,458" fill="#fff" stroke="#141414" stroke-width="1.44" stroke-linejoin="round" />
<circle cx="396.6" cy="454.6" r="1.2" fill="#222"/>
<polygon points="223.8,285.6 386.6,338.6 383.4,496.2 222.6,444.5" fill="#0c0c0c" stroke="#141414" stroke-width="1.2" stroke-linejoin="round" />
<path d="M224.39,287.59 L385.96,340.57" stroke="#6e6e6e" stroke-width="1.7" fill="none"/>
<path d="M224.39,287.59 L385.96,340.57" stroke="#c6c6c6" stroke-width="1.9" stroke-dasharray="1.55 1.15" stroke-dashoffset="0.0" fill="none"/>
<path d="M224.36,291.20 L385.89,344.15" stroke="#6e6e6e" stroke-width="1.7" fill="none"/>
<path d="M224.36,291.20 L385.89,344.15" stroke="#c6c6c6" stroke-width="1.9" stroke-dasharray="1.55 1.15" stroke-dashoffset="0.0" fill="none"/>
<path d="M224.33,294.81 L385.81,347.73" stroke="#6e6e6e" stroke-width="1.7" fill="none"/>
<path d="M224.33,294.81 L385.81,347.73" stroke="#c6c6c6" stroke-width="1.9" stroke-dasharray="1.55 1.15" stroke-dashoffset="0.0" fill="none"/>
<path d="M224.30,298.42 L385.74,351.32" stroke="#6e6e6e" stroke-width="1.7" fill="none"/>
<path d="M224.30,298.42 L385.74,351.32" stroke="#c6c6c6" stroke-width="1.9" stroke-dasharray="1.55 1.15" stroke-dashoffset="0.0" fill="none"/>
<path d="M224.28,302.03 L385.67,354.90" stroke="#6e6e6e" stroke-width="1.7" fill="none"/>
<path d="M224.28,302.03 L385.67,354.90" stroke="#c6c6c6" stroke-width="1.9" stroke-dasharray="1.55 1.15" stroke-dashoffset="0.0" fill="none"/>
<path d="M224.25,305.64 L385.60,358.48" stroke="#6e6e6e" stroke-width="1.7" fill="none"/>
<path d="M224.25,305.64 L385.60,358.48" stroke="#c6c6c6" stroke-width="1.9" stroke-dasharray="1.55 1.15" stroke-dashoffset="0.0" fill="none"/>
<path d="M224.22,309.25 L385.52,362.06" stroke="#6e6e6e" stroke-width="1.7" fill="none"/>
<path d="M224.22,309.25 L385.52,362.06" stroke="#c6c6c6" stroke-width="1.9" stroke-dasharray="1.55 1.15" stroke-dashoffset="0.0" fill="none"/>
<path d="M224.19,312.87 L385.45,365.64" stroke="#6e6e6e" stroke-width="1.7" fill="none"/>
<path d="M224.19,312.87 L385.45,365.64" stroke="#c6c6c6" stroke-width="1.9" stroke-dasharray="1.55 1.15" stroke-dashoffset="0.0" fill="none"/>
<path d="M224.17,316.48 L385.38,369.22" stroke="#6e6e6e" stroke-width="1.7" fill="none"/>
<path d="M224.17,316.48 L385.38,369.22" stroke="#c6c6c6" stroke-width="1.9" stroke-dasharray="1.55 1.15" stroke-dashoffset="0.0" fill="none"/>
<path d="M224.14,320.09 L385.31,372.81" stroke="#6e6e6e" stroke-width="1.7" fill="none"/>
<path d="M224.14,320.09 L385.31,372.81" stroke="#c6c6c6" stroke-width="1.9" stroke-dasharray="1.55 1.15" stroke-dashoffset="0.0" fill="none"/>
<path d="M224.11,323.70 L385.23,376.39" stroke="#6e6e6e" stroke-width="1.7" fill="none"/>
<path d="M224.11,323.70 L385.23,376.39" stroke="#c6c6c6" stroke-width="1.9" stroke-dasharray="1.55 1.15" stroke-dashoffset="0.0" fill="none"/>
<path d="M224.09,327.31 L385.16,379.97" stroke="#6e6e6e" stroke-width="1.7" fill="none"/>
<path d="M224.09,327.31 L385.16,379.97" stroke="#c6c6c6" stroke-width="1.9" stroke-dasharray="1.55 1.15" stroke-dashoffset="0.0" fill="none"/>
<path d="M224.06,330.92 L385.09,383.55" stroke="#6e6e6e" stroke-width="1.7" fill="none"/>
<path d="M224.06,330.92 L385.09,383.55" stroke="#c6c6c6" stroke-width="1.9" stroke-dasharray="1.55 1.15" stroke-dashoffset="0.0" fill="none"/>
<path d="M224.03,334.53 L385.01,387.13" stroke="#6e6e6e" stroke-width="1.7" fill="none"/>
<path d="M224.03,334.53 L385.01,387.13" stroke="#c6c6c6" stroke-width="1.9" stroke-dasharray="1.55 1.15" stroke-dashoffset="0.0" fill="none"/>
<path d="M224.00,338.15 L384.94,390.72" stroke="#6e6e6e" stroke-width="1.7" fill="none"/>
<path d="M224.00,338.15 L384.94,390.72" stroke="#c6c6c6" stroke-width="1.9" stroke-dasharray="1.55 1.15" stroke-dashoffset="0.0" fill="none"/>
<path d="M223.98,341.76 L384.87,394.30" stroke="#6e6e6e" stroke-width="1.7" fill="none"/>
<path d="M223.98,341.76 L384.87,394.30" stroke="#c6c6c6" stroke-width="1.9" stroke-dasharray="1.55 1.15" stroke-dashoffset="0.0" fill="none"/>
<path d="M223.95,345.37 L384.80,397.88" stroke="#6e6e6e" stroke-width="1.7" fill="none"/>
<path d="M223.95,345.37 L384.80,397.88" stroke="#c6c6c6" stroke-width="1.9" stroke-dasharray="1.55 1.15" stroke-dashoffset="0.0" fill="none"/>
<path d="M223.92,348.98 L384.72,401.46" stroke="#6e6e6e" stroke-width="1.7" fill="none"/>
<path d="M223.92,348.98 L384.72,401.46" stroke="#c6c6c6" stroke-width="1.9" stroke-dasharray="1.55 1.15" stroke-dashoffset="0.0" fill="none"/>
<path d="M223.89,352.59 L384.65,405.04" stroke="#6e6e6e" stroke-width="1.7" fill="none"/>
<path d="M223.89,352.59 L384.65,405.04" stroke="#c6c6c6" stroke-width="1.9" stroke-dasharray="1.55 1.15" stroke-dashoffset="0.0" fill="none"/>
<path d="M223.87,356.20 L384.58,408.62" stroke="#6e6e6e" stroke-width="1.7" fill="none"/>
<path d="M223.87,356.20 L384.58,408.62" stroke="#c6c6c6" stroke-width="1.9" stroke-dasharray="1.55 1.15" stroke-dashoffset="0.0" fill="none"/>
<path d="M223.84,359.81 L384.51,412.21" stroke="#6e6e6e" stroke-width="1.7" fill="none"/>
<path d="M223.84,359.81 L384.51,412.21" stroke="#c6c6c6" stroke-width="1.9" stroke-dasharray="1.55 1.15" stroke-dashoffset="0.0" fill="none"/>
<path d="M223.81,363.42 L384.43,415.79" stroke="#6e6e6e" stroke-width="1.7" fill="none"/>
<path d="M223.81,363.42 L384.43,415.79" stroke="#c6c6c6" stroke-width="1.9" stroke-dasharray="1.55 1.15" stroke-dashoffset="0.0" fill="none"/>
<path d="M223.78,367.04 L384.36,419.37" stroke="#6e6e6e" stroke-width="1.7" fill="none"/>
<path d="M223.78,367.04 L384.36,419.37" stroke="#c6c6c6" stroke-width="1.9" stroke-dasharray="1.55 1.15" stroke-dashoffset="0.0" fill="none"/>
<path d="M223.76,370.65 L384.29,422.95" stroke="#6e6e6e" stroke-width="1.7" fill="none"/>
<path d="M223.76,370.65 L384.29,422.95" stroke="#c6c6c6" stroke-width="1.9" stroke-dasharray="1.55 1.15" stroke-dashoffset="0.0" fill="none"/>
<path d="M223.73,374.26 L384.21,426.53" stroke="#6e6e6e" stroke-width="1.7" fill="none"/>
<path d="M223.73,374.26 L384.21,426.53" stroke="#c6c6c6" stroke-width="1.9" stroke-dasharray="1.55 1.15" stroke-dashoffset="0.0" fill="none"/>
<path d="M223.70,377.87 L384.14,430.12" stroke="#6e6e6e" stroke-width="1.7" fill="none"/>
<path d="M223.70,377.87 L384.14,430.12" stroke="#c6c6c6" stroke-width="1.9" stroke-dasharray="1.55 1.15" stroke-dashoffset="0.0" fill="none"/>
<path d="M223.68,381.48 L384.07,433.70" stroke="#6e6e6e" stroke-width="1.7" fill="none"/>
<path d="M223.68,381.48 L384.07,433.70" stroke="#c6c6c6" stroke-width="1.9" stroke-dasharray="1.55 1.15" stroke-dashoffset="0.0" fill="none"/>
<path d="M223.65,385.09 L384.00,437.28" stroke="#6e6e6e" stroke-width="1.7" fill="none"/>
<path d="M223.65,385.09 L384.00,437.28" stroke="#c6c6c6" stroke-width="1.9" stroke-dasharray="1.55 1.15" stroke-dashoffset="0.0" fill="none"/>
<path d="M223.62,388.70 L383.92,440.86" stroke="#6e6e6e" stroke-width="1.7" fill="none"/>
<path d="M223.62,388.70 L383.92,440.86" stroke="#c6c6c6" stroke-width="1.9" stroke-dasharray="1.55 1.15" stroke-dashoffset="0.0" fill="none"/>
<path d="M223.59,392.32 L383.85,444.44" stroke="#6e6e6e" stroke-width="1.7" fill="none"/>
<path d="M223.59,392.32 L383.85,444.44" stroke="#c6c6c6" stroke-width="1.9" stroke-dasharray="1.55 1.15" stroke-dashoffset="0.0" fill="none"/>
<path d="M223.57,395.93 L383.78,448.02" stroke="#6e6e6e" stroke-width="1.7" fill="none"/>
<path d="M223.57,395.93 L383.78,448.02" stroke="#c6c6c6" stroke-width="1.9" stroke-dasharray="1.55 1.15" stroke-dashoffset="0.0" fill="none"/>
<path d="M223.54,399.54 L383.71,451.61" stroke="#6e6e6e" stroke-width="1.7" fill="none"/>
<path d="M223.54,399.54 L383.71,451.61" stroke="#c6c6c6" stroke-width="1.9" stroke-dasharray="1.55 1.15" stroke-dashoffset="0.0" fill="none"/>
<path d="M223.51,403.15 L383.63,455.19" stroke="#6e6e6e" stroke-width="1.7" fill="none"/>
<path d="M223.51,403.15 L383.63,455.19" stroke="#c6c6c6" stroke-width="1.9" stroke-dasharray="1.55 1.15" stroke-dashoffset="0.0" fill="none"/>
<path d="M223.48,406.76 L383.56,458.77" stroke="#6e6e6e" stroke-width="1.7" fill="none"/>
<path d="M223.48,406.76 L383.56,458.77" stroke="#c6c6c6" stroke-width="1.9" stroke-dasharray="1.55 1.15" stroke-dashoffset="0.0" fill="none"/>
<path d="M223.46,410.37 L383.49,462.35" stroke="#6e6e6e" stroke-width="1.7" fill="none"/>
<path d="M223.46,410.37 L383.49,462.35" stroke="#c6c6c6" stroke-width="1.9" stroke-dasharray="1.55 1.15" stroke-dashoffset="0.0" fill="none"/>
<path d="M223.43,413.98 L383.41,465.93" stroke="#6e6e6e" stroke-width="1.7" fill="none"/>
<path d="M223.43,413.98 L383.41,465.93" stroke="#c6c6c6" stroke-width="1.9" stroke-dasharray="1.55 1.15" stroke-dashoffset="0.0" fill="none"/>
<path d="M223.40,417.60 L383.34,469.52" stroke="#6e6e6e" stroke-width="1.7" fill="none"/>
<path d="M223.40,417.60 L383.34,469.52" stroke="#c6c6c6" stroke-width="1.9" stroke-dasharray="1.55 1.15" stroke-dashoffset="0.0" fill="none"/>
<path d="M223.38,421.21 L383.27,473.10" stroke="#6e6e6e" stroke-width="1.7" fill="none"/>
<path d="M223.38,421.21 L383.27,473.10" stroke="#c6c6c6" stroke-width="1.9" stroke-dasharray="1.55 1.15" stroke-dashoffset="0.0" fill="none"/>
<path d="M223.35,424.82 L383.20,476.68" stroke="#6e6e6e" stroke-width="1.7" fill="none"/>
<path d="M223.35,424.82 L383.20,476.68" stroke="#c6c6c6" stroke-width="1.9" stroke-dasharray="1.55 1.15" stroke-dashoffset="0.0" fill="none"/>
<path d="M223.32,428.43 L383.12,480.26" stroke="#6e6e6e" stroke-width="1.7" fill="none"/>
<path d="M223.32,428.43 L383.12,480.26" stroke="#c6c6c6" stroke-width="1.9" stroke-dasharray="1.55 1.15" stroke-dashoffset="0.0" fill="none"/>
<path d="M223.29,432.04 L383.05,483.84" stroke="#6e6e6e" stroke-width="1.7" fill="none"/>
<path d="M223.29,432.04 L383.05,483.84" stroke="#c6c6c6" stroke-width="1.9" stroke-dasharray="1.55 1.15" stroke-dashoffset="0.0" fill="none"/>
<path d="M223.27,435.65 L382.98,487.42" stroke="#6e6e6e" stroke-width="1.7" fill="none"/>
<path d="M223.27,435.65 L382.98,487.42" stroke="#c6c6c6" stroke-width="1.9" stroke-dasharray="1.55 1.15" stroke-dashoffset="0.0" fill="none"/>
<path d="M223.24,439.26 L382.91,491.01" stroke="#6e6e6e" stroke-width="1.7" fill="none"/>
<path d="M223.24,439.26 L382.91,491.01" stroke="#c6c6c6" stroke-width="1.9" stroke-dasharray="1.55 1.15" stroke-dashoffset="0.0" fill="none"/>
<path d="M223.21,442.87 L382.83,494.59" stroke="#6e6e6e" stroke-width="1.7" fill="none"/>
<path d="M223.21,442.87 L382.83,494.59" stroke="#c6c6c6" stroke-width="1.9" stroke-dasharray="1.55 1.15" stroke-dashoffset="0.0" fill="none"/>
<polygon points="222.5,279 389,331.7 389.4,333.6 386.6,338.6 223.8,285.8" fill="#fff" stroke="#141414" stroke-width="1.2" stroke-linejoin="round" />
<path d="M222.5,279 L389,331.7" fill="none" stroke="#141414" stroke-width="2.28" stroke-linejoin="round" />
<path d="M224,283.6 L387.5,335.6" fill="none" stroke="#666" stroke-width="0.72" stroke-linejoin="round" />
<polygon points="222.6,444.5 383.4,496.2 383.4,500.8 222.6,450.1" fill="#fff" stroke="#141414" stroke-width="1.44" stroke-linejoin="round" />
<path d="M222.8,447.4 L383.2,498.6" fill="none" stroke="#888" stroke-width="0.72" stroke-linejoin="round" />
<polygon points="375.6,493.2 383.4,495.8 383.4,500.8 375.6,498.3" fill="#fff" stroke="#141414" stroke-width="1.2" stroke-linejoin="round" />
<path d="M383.6,488.5 L386,486.3 L393,487.3 L395.4,490 L395.2,496.5 L392,499 L385,498.3 L383.6,496 Z" fill="#fff" stroke="#141414" stroke-width="1.4"/>
<ellipse cx="390.6" cy="492.8" rx="2.4" ry="2.8" transform="rotate(0 390.6 492.8)" fill="#fff" stroke="#141414" stroke-width="1.0"/>
<path d="M387,487 L387,498" fill="none" stroke="#141414" stroke-width="0.96" stroke-linejoin="round" />
<polygon points="220,284.5 225.5,286 223.3,446 217.4,444" fill="#fff" stroke="#141414" stroke-width="0.96" stroke-linejoin="round" />
<path d="M222.9,287 L220.5,444" fill="none" stroke="#1a1a1a" stroke-width="4.32" stroke-linejoin="round" stroke-dasharray="1.3 1.5"/>
<polygon points="398.3,366.5 416.7,371.6 416.7,385 408.6,382.8 407.4,431.4 379.8,429 379.8,396.8 389.8,397.6 390.2,388 398.3,388.6" fill="#fff" stroke="#141414" stroke-width="1.56" stroke-linejoin="round" />
<path d="M387,397.4 L387,429.6 M394.2,388.4 L394.2,430.2" fill="none" stroke="#141414" stroke-width="1.08" stroke-linejoin="round" />
<path d="M402.6,368 L402.2,431" fill="none" stroke="#444" stroke-width="0.96" stroke-linejoin="round" />
<circle cx="401.3" cy="375.7" r="1.2" fill="#222"/><circle cx="412.6" cy="378.4" r="1.2" fill="#222"/>
<circle cx="383.4" cy="404" r="1.1" fill="#222"/><circle cx="397.3" cy="404" r="1.1" fill="#222"/><circle cx="400.1" cy="419.4" r="1.1" fill="#222"/><circle cx="397.8" cy="411.5" r="0.8" fill="#444"/>
<path d="M390.4,374 Q390.4,371.6 393.4,371.8 L397.6,372.8 L397.6,388 L390.4,387.4 Z" fill="#fff" stroke="#141414" stroke-width="1.2"/>
<ellipse cx="394" cy="378.5" rx="2.6" ry="2.2" transform="rotate(0 394 378.5)" fill="#fff" stroke="#141414" stroke-width="1.0"/>
<path d="M391.6,381 L391.6,387 M396.2,381 L396.2,387.6" fill="none" stroke="#141414" stroke-width="0.96" stroke-linejoin="round" />
<polygon points="201.4,281.4 208.4,282.4 205.2,439.8 197.6,438.7" fill="#fff" stroke="#141414" stroke-width="1.44" stroke-linejoin="round" />
<polygon points="208.4,282.4 220,284.4 217.4,443.8 205.2,441.6" fill="#fff" stroke="#141414" stroke-width="1.44" stroke-linejoin="round" />
<path d="M211.8,290 L208.6,440" fill="none" stroke="#555" stroke-width="0.96" stroke-linejoin="round" />
<polygon points="202.6,279 222.4,282.4 222.4,285.6 208.4,283.4 202.6,282.6" fill="#fff" stroke="#141414" stroke-width="1.44" stroke-linejoin="round" />
<path d="M205.6,441.6 L205.7,446.5 Q210.3,451 215.6,448.6 L215.8,443.4" fill="#fff" stroke="#141414" stroke-width="1.3"/>
<path d="M205.7,444.6 Q210.4,448.6 215.7,446" fill="none" stroke="#141414" stroke-width="1.2" stroke-linejoin="round" />
<ellipse cx="218.1" cy="308.3" rx="2.2" ry="2.4" transform="rotate(0 218.1 308.3)" fill="#fff" stroke="#141414" stroke-width="1.2"/>
<path d="M216,308.3 L224,309.2" fill="none" stroke="#141414" stroke-width="1.44" stroke-linejoin="round" />
<circle cx="205.6" cy="293" r="0.9" fill="#444"/><circle cx="201.4" cy="393.4" r="1.1" fill="#fff" stroke="#222" stroke-width="0.8"/>
<path d="M233.4,362.4 L258.6,370.6" fill="none" stroke="#141414" stroke-width="5.8999999999999995" stroke-linecap="butt" stroke-linejoin="round"/>
<path d="M233.4,362.4 L258.6,370.6" fill="none" stroke="#fff" stroke-width="3.2999999999999994" stroke-linecap="butt" stroke-linejoin="round"/>
<path d="M210.4,235.0 C211.9,237.1 213.4,239.4 217.0,244.0 C220.6,248.6 223.3,250.8 226.0,254.6 C228.7,258.4 228.0,249.9 228.6,260.5 C229.2,271.1 228.5,275.4 228.5,300.0 C228.5,324.6 228.5,348.7 228.8,366.0 C229.1,383.3 228.7,371.2 229.6,374.0 C230.5,376.8 230.6,376.9 232.6,377.8 C234.6,378.7 234.6,378.5 238.0,377.8 C241.4,377.1 242.1,376.3 247.0,374.6 C251.9,372.9 256.2,371.5 259.0,370.6" fill="none" stroke="#141414" stroke-width="6.8" stroke-linecap="butt" stroke-linejoin="round"/>
<path d="M210.4,235.0 C211.9,237.1 213.4,239.4 217.0,244.0 C220.6,248.6 223.3,250.8 226.0,254.6 C228.7,258.4 228.0,249.9 228.6,260.5 C229.2,271.1 228.5,275.4 228.5,300.0 C228.5,324.6 228.5,348.7 228.8,366.0 C229.1,383.3 228.7,371.2 229.6,374.0 C230.5,376.8 230.6,376.9 232.6,377.8 C234.6,378.7 234.6,378.5 238.0,377.8 C241.4,377.1 242.1,376.3 247.0,374.6 C251.9,372.9 256.2,371.5 259.0,370.6" fill="none" stroke="#fff" stroke-width="3.9399999999999995" stroke-linecap="butt" stroke-linejoin="round"/>
<path d="M226,368 L232,367" fill="none" stroke="#555" stroke-width="0.96" stroke-linejoin="round" />
<path d="M214.6,229 Q214.4,225.6 218,225.4 L222.4,225.8 L224.8,228.6 L226,245.6 L223.4,244.4 L219,238.6 Z" fill="#fff" stroke="#141414" stroke-width="1.4"/>
<path d="M222.6,227.4 L223.8,244.6" fill="none" stroke="#141414" stroke-width="2.4" stroke-linejoin="round" />
<ellipse cx="217.6" cy="232" rx="2.2" ry="2.6" transform="rotate(0 217.6 232)" fill="#fff" stroke="#141414" stroke-width="1.0"/>
<ellipse cx="210.6" cy="235.2" rx="3" ry="3.2" transform="rotate(0 210.6 235.2)" fill="#fff" stroke="#141414" stroke-width="1.3"/>
<path d="M333.4,243.8 C331.7,244.8 330.1,245.6 327.0,247.4 C323.9,249.2 323.3,248.8 321.6,250.4 C319.9,252.0 320.3,251.4 320.6,253.4 C320.9,255.4 321.0,255.2 322.6,258.0 C324.2,260.8 325.2,261.1 326.6,264.0 C328.0,266.9 327.5,259.4 327.8,269.0 C328.1,278.6 327.8,281.1 327.9,300.0 C328.0,318.9 328.1,325.7 328.3,340.0 C328.5,354.3 328.0,348.9 328.5,353.5 C329.0,358.1 328.7,356.1 330.0,357.4 C331.3,358.7 330.6,358.6 333.5,358.4 C336.4,358.2 336.9,357.8 341.0,356.8 C345.1,355.8 346.1,355.8 349.0,354.8 C351.9,353.8 351.4,354.0 351.8,353.0 C352.2,352.0 352.7,352.1 350.6,351.2 C348.5,350.3 347.4,350.6 344.0,349.6 C340.6,348.6 339.6,348.0 338.0,347.4" fill="none" stroke="#141414" stroke-width="4.3" stroke-linecap="butt" stroke-linejoin="round"/>
<path d="M333.4,243.8 C331.7,244.8 330.1,245.6 327.0,247.4 C323.9,249.2 323.3,248.8 321.6,250.4 C319.9,252.0 320.3,251.4 320.6,253.4 C320.9,255.4 321.0,255.2 322.6,258.0 C324.2,260.8 325.2,261.1 326.6,264.0 C328.0,266.9 327.5,259.4 327.8,269.0 C328.1,278.6 327.8,281.1 327.9,300.0 C328.0,318.9 328.1,325.7 328.3,340.0 C328.5,354.3 328.0,348.9 328.5,353.5 C329.0,358.1 328.7,356.1 330.0,357.4 C331.3,358.7 330.6,358.6 333.5,358.4 C336.4,358.2 336.9,357.8 341.0,356.8 C345.1,355.8 346.1,355.8 349.0,354.8 C351.9,353.8 351.4,354.0 351.8,353.0 C352.2,352.0 352.7,352.1 350.6,351.2 C348.5,350.3 347.4,350.6 344.0,349.6 C340.6,348.6 339.6,348.0 338.0,347.4" fill="none" stroke="#fff" stroke-width="1.83" stroke-linecap="butt" stroke-linejoin="round"/>
<ellipse cx="333.8" cy="243.5" rx="1.3" ry="2.1" transform="rotate(-30 333.8 243.5)" fill="#444" stroke="#141414" stroke-width="0.7"/>
<polygon points="331.1,343.2 338.4,345.2 338.4,349.6 331.3,348.8" fill="#fff" stroke="#141414" stroke-width="1.08" stroke-linejoin="round" />
<polygon points="331,285.4 339.4,286 339.4,293.6 331,294.4" fill="#444" stroke="#141414" stroke-width="1.2" stroke-linejoin="round" />
<polygon points="339.4,287.4 343.6,288.4 343.6,290.6 339.4,292.4" fill="#ddd" stroke="#141414" stroke-width="0.96" stroke-linejoin="round" />
<ellipse cx="326.2" cy="290.4" rx="5.3" ry="4.8" transform="rotate(0 326.2 290.4)" fill="#fff" stroke="#141414" stroke-width="1.5"/>
<path d="M326,285.8 L326,295.2 M329.6,286.6 L329.6,294.4" fill="none" stroke="#141414" stroke-width="1.2" stroke-linejoin="round" />
<path d="M321.8,322.6 Q325.6,322 325.8,325.6 L325.8,329.6" fill="none" stroke="#fff" stroke-width="1.3"/>
<path d="M326.5,342.2 C323.2,341.5 324.1,341.2 316.6,340.2 C309.1,339.2 312.4,338.9 303.9,339.3 C295.4,339.7 299.2,338.6 291.1,341.5 C283.0,344.4 286.4,342.8 279.6,347.9 C272.8,353.0 276.2,350.0 270.7,356.8 C265.2,363.6 267.5,360.2 263.0,368.3 C258.5,376.4 260.2,372.5 257.2,381.1 C254.2,389.7 255.5,385.0 254.0,394.0 C252.5,403.0 253.1,399.2 252.7,408.0 C252.3,416.8 252.4,411.8 252.8,420.5 C253.2,429.2 252.7,425.5 253.8,434.0 C254.9,442.5 254.1,437.8 256.0,446.1 C257.9,454.4 256.9,451.1 259.4,458.9 C261.9,466.7 260.0,462.3 263.4,469.5 C266.8,476.7 264.9,473.5 269.5,480.5 C274.1,487.5 271.8,484.7 277.3,490.6 C282.8,496.5 280.1,493.7 286.0,498.3 C291.9,502.9 285.5,499.7 295.0,504.3 C304.5,508.9 308.0,509.6 314.5,512.2" fill="none" stroke="#141414" stroke-width="9.3" stroke-linecap="butt" stroke-linejoin="round"/>
<path d="M326.5,342.2 C323.2,341.5 324.1,341.2 316.6,340.2 C309.1,339.2 312.4,338.9 303.9,339.3 C295.4,339.7 299.2,338.6 291.1,341.5 C283.0,344.4 286.4,342.8 279.6,347.9 C272.8,353.0 276.2,350.0 270.7,356.8 C265.2,363.6 267.5,360.2 263.0,368.3 C258.5,376.4 260.2,372.5 257.2,381.1 C254.2,389.7 255.5,385.0 254.0,394.0 C252.5,403.0 253.1,399.2 252.7,408.0 C252.3,416.8 252.4,411.8 252.8,420.5 C253.2,429.2 252.7,425.5 253.8,434.0 C254.9,442.5 254.1,437.8 256.0,446.1 C257.9,454.4 256.9,451.1 259.4,458.9 C261.9,466.7 260.0,462.3 263.4,469.5 C266.8,476.7 264.9,473.5 269.5,480.5 C274.1,487.5 271.8,484.7 277.3,490.6 C282.8,496.5 280.1,493.7 286.0,498.3 C291.9,502.9 285.5,499.7 295.0,504.3 C304.5,508.9 308.0,509.6 314.5,512.2" fill="none" stroke="#fff" stroke-width="6.3100000000000005" stroke-linecap="butt" stroke-linejoin="round"/>
<path d="M314.8,512 L327.8,516.2" fill="none" stroke="#141414" stroke-width="8.9" stroke-linecap="butt" stroke-linejoin="round"/>
<path d="M314.8,512 L327.8,516.2" fill="none" stroke="#fff" stroke-width="6.04" stroke-linecap="butt" stroke-linejoin="round"/>
<path d="M316.6,507.8 L313.8,516.4 M323.4,510.2 L320.8,518.8" fill="none" stroke="#141414" stroke-width="1.08" stroke-linejoin="round" />
<ellipse cx="327.8" cy="516.2" rx="1.7" ry="4.1" transform="rotate(-18 327.8 516.2)" fill="#fff" stroke="#141414" stroke-width="1.0"/>
<path d="M328.6,516.2 L339,519" fill="none" stroke="#141414" stroke-width="6.5" stroke-linecap="butt" stroke-linejoin="round"/>
<path d="M328.6,516.2 L339,519" fill="none" stroke="#fff" stroke-width="3.9" stroke-linecap="butt" stroke-linejoin="round"/>
<path d="M333.2,514.4 L331.8,520.4" fill="none" stroke="#141414" stroke-width="0.96" stroke-linejoin="round" />
<polygon points="339.4,512.4 343.4,512.8 342.6,517.4 338.6,516.8" fill="#fff" stroke="#141414" stroke-width="1.08" stroke-linejoin="round" />
<polygon points="337.4,506.4 341,504.4 348.6,506.6 349.4,509.6 346.6,512.6 339,511.6" fill="#2a2a2a" stroke="#141414" stroke-width="1.08" stroke-linejoin="round" />
<path d="M340.4,507 L346.6,508.6" fill="none" stroke="#bbb" stroke-width="0.84" stroke-linejoin="round" />
<path d="M338.0,518.8 C341.2,518.7 344.8,518.5 350.0,518.3 C355.2,518.1 354.4,517.6 357.4,517.9 C360.4,518.2 359.8,518.0 361.2,519.4 C362.6,520.8 362.1,518.6 362.5,523.0 C362.9,527.4 362.6,532.5 362.6,536.0" fill="none" stroke="#141414" stroke-width="4.8999999999999995" stroke-linecap="butt" stroke-linejoin="round"/>
<path d="M338.0,518.8 C341.2,518.7 344.8,518.5 350.0,518.3 C355.2,518.1 354.4,517.6 357.4,517.9 C360.4,518.2 359.8,518.0 361.2,519.4 C362.6,520.8 362.1,518.6 362.5,523.0 C362.9,527.4 362.6,532.5 362.6,536.0" fill="none" stroke="#fff" stroke-width="2.2999999999999994" stroke-linecap="butt" stroke-linejoin="round"/>
<path d="M357.2,535 L366.8,535.2 L367,544.6 L364.8,548.4 L359.4,548.2 L357,544.6 Z" fill="#fff" stroke="#141414" stroke-width="1.4"/>
<path d="M357.2,539.4 L367,539.8 M360.4,540 L360.4,548 M363.8,540 L363.8,548" fill="none" stroke="#141414" stroke-width="1.08" stroke-linejoin="round" />
<path d="M221.4,358.4 C216.7,356.8 216.0,355.7 207.2,353.7 C198.4,351.7 203.0,351.7 195.0,352.4 C187.0,353.1 190.2,352.0 183.2,355.7 C176.2,359.4 179.6,356.4 174.0,363.6 C168.4,370.8 170.7,366.9 166.3,377.4 C161.9,387.9 163.6,383.9 160.9,395.0 C158.2,406.1 159.2,402.4 158.3,410.7 C157.4,419.0 157.3,410.5 158.2,420.0 C159.1,429.5 158.1,427.3 161.1,439.1 C164.1,450.9 161.9,445.5 167.2,455.4 C172.5,465.3 170.3,461.8 177.0,468.8 C183.7,475.8 179.2,471.8 187.2,476.3 C195.2,480.8 196.3,480.4 200.9,482.4" fill="none" stroke="#141414" stroke-width="10.200000000000001" stroke-linecap="butt" stroke-linejoin="round"/>
<path d="M221.4,358.4 C216.7,356.8 216.0,355.7 207.2,353.7 C198.4,351.7 203.0,351.7 195.0,352.4 C187.0,353.1 190.2,352.0 183.2,355.7 C176.2,359.4 179.6,356.4 174.0,363.6 C168.4,370.8 170.7,366.9 166.3,377.4 C161.9,387.9 163.6,383.9 160.9,395.0 C158.2,406.1 159.2,402.4 158.3,410.7 C157.4,419.0 157.3,410.5 158.2,420.0 C159.1,429.5 158.1,427.3 161.1,439.1 C164.1,450.9 161.9,445.5 167.2,455.4 C172.5,465.3 170.3,461.8 177.0,468.8 C183.7,475.8 179.2,471.8 187.2,476.3 C195.2,480.8 196.3,480.4 200.9,482.4" fill="none" stroke="#fff" stroke-width="7.210000000000001" stroke-linecap="butt" stroke-linejoin="round"/>
<ellipse cx="221.6" cy="358.4" rx="1.5" ry="4.6" transform="rotate(14 221.6 358.4)" fill="#fff" stroke="#141414" stroke-width="1.0"/>
<path d="M209.4,349.6 L207.6,358.6" fill="none" stroke="#555" stroke-width="0.96" stroke-linejoin="round" />
<path d="M187.6,471.4 L183.2,479.4" fill="none" stroke="#555" stroke-width="0.96" stroke-linejoin="round" />
<path d="M198.8,481.4 L210,486.4" fill="none" stroke="#141414" stroke-width="9.700000000000001" stroke-linecap="butt" stroke-linejoin="round"/>
<path d="M198.8,481.4 L210,486.4" fill="none" stroke="#fff" stroke-width="6.840000000000001" stroke-linecap="butt" stroke-linejoin="round"/>
<path d="M201.6,477.4 L198,486 M205,479 L201.4,487.6 M208.2,480.4 L204.6,489" fill="none" stroke="#141414" stroke-width="1.08" stroke-linejoin="round" />
<path d="M210.6,477 L216.6,475.4 L222.6,477.8 L226,483 L225.4,489.6 L220.6,493.6 L213.6,492 L209.4,487 Z" fill="#fff" stroke="#141414" stroke-width="1.4"/>
<path d="M217,482 L223,481 L224.6,488.6 L220,492 L215.6,489.6 Z" fill="#333" stroke="#141414" stroke-width="0.8"/>
<polygon points="217.4,474.6 221.6,474.4 223.6,477.6 220.4,478.4" fill="#333" stroke="#141414" stroke-width="0.84" stroke-linejoin="round" />
<path d="M213.4,477.2 L213.6,490.6" fill="none" stroke="#141414" stroke-width="1.08" stroke-linejoin="round" />
<circle cx="197.2" cy="538.1" r="13.7" fill="#b3ef8d" filter="url(#soft2)"/>
<path d="M263.2,31.3 L271.8,31.3 M271.8,31.3 L318.2,76.3" fill="none" stroke="#555" stroke-width="0.9"/>
<path d="M226.4,46.8 L235,46.8 M235,46.8 L278.2,88.2" fill="none" stroke="#555" stroke-width="0.9"/>
<path d="M193.6,66.9 L202.6,66.9 M202.6,66.9 L212.5,75.6" fill="none" stroke="#555" stroke-width="0.9"/>
<path d="M168.2,79 L177.4,79 M168.2,79 L162.6,104" fill="none" stroke="#555" stroke-width="0.9"/>
<path d="M132,301.6 L141,301.6 M141,301.6 L183.5,359" fill="none" stroke="#777" stroke-width="0.9"/>
<path d="M192,545.4 L199.5,545.4 L208,535.5" fill="none" stroke="#72b044" stroke-width="1"/>
<path d="M208,535.5 L259,476.5" fill="none" stroke="#444" stroke-width="0.96" stroke-linejoin="round" />
<path d="M382,552.3 L393,552.3 M382,552.3 L374.6,498.6" fill="none" stroke="#555" stroke-width="0.9"/>
<path d="M410.5,552.3 L420.5,552.3 M410.5,552.3 L404.3,398" fill="none" stroke="#555" stroke-width="0.9"/>
<path d="M436,552.3 L446.5,552.3 M446.5,552.3 L482.6,379" fill="none" stroke="#555" stroke-width="0.9"/>
<path d="M469.5,552.3 L487.5,552.3 M487.5,552.3 L528.5,388" fill="none" stroke="#555" stroke-width="0.9"/>
<path d="M526,552.3 L543,552.3 M543,552.3 L611,476" fill="none" stroke="#555" stroke-width="0.9"/>
<path d="M665,143.6 L682.5,143.6 M665,143.6 L639.5,197" fill="none" stroke="#555" stroke-width="0.9"/>
<path d="M611,143.6 L628.5,143.6 M611,143.6 L581.5,184.3" fill="none" stroke="#555" stroke-width="0.9"/>
<path d="M515,144.4 L532.5,144.4 M515,144.4 L485,214.5" fill="none" stroke="#555" stroke-width="0.9"/>
<path d="M477,144.4 L495,144.4 M477,144.4 L456,240" fill="none" stroke="#555" stroke-width="0.9"/>
<path d="M437.5,144.4 L455,144.4 M437.5,144.4 L411,237" fill="none" stroke="#555" stroke-width="0.9"/>
<path d="M393,144.4 L411.5,144.4 M393,144.4 L377.3,236.3" fill="none" stroke="#777" stroke-width="0.9"/>
</g>
<g filter="url(#soft3)">
<text transform="translate(267.6 27.6) scale(0.94 1)" text-anchor="middle" font-size="17" fill="#222" stroke="#222" stroke-width="0.18">1</text>
<text transform="translate(230.6 43.4) scale(0.94 1)" text-anchor="middle" font-size="17" fill="#666">2</text>
<text transform="translate(197.6 63.4) scale(0.94 1)" text-anchor="middle" font-size="17" fill="#666">3</text>
<text transform="translate(173 74.8) scale(0.94 1)" text-anchor="middle" font-size="17" fill="#222" stroke="#222" stroke-width="0.18">4</text>
<text transform="translate(136.4 297.4) scale(0.94 1)" text-anchor="middle" font-size="17" fill="#888">5</text>
<text x="194.7" y="541.6" text-anchor="middle" font-size="17" fill="#64a436">6</text>
<text transform="translate(388 547.3) scale(0.94 1)" text-anchor="middle" font-size="17" fill="#333" stroke="#333" stroke-width="0.18">7</text>
<text transform="translate(415.5 547.3) scale(0.94 1)" text-anchor="middle" font-size="17" fill="#555">8</text>
<text transform="translate(441 547.3) scale(0.94 1)" text-anchor="middle" font-size="17" fill="#555">9</text>
<text transform="translate(478 547.3) scale(0.94 1)" text-anchor="middle" font-size="17" fill="#555">10</text>
<text transform="translate(533 547.3) scale(0.94 1)" text-anchor="middle" font-size="17" fill="#555">11</text>
<text transform="translate(675 139.6) scale(0.94 1)" text-anchor="middle" font-size="17" fill="#666">12</text>
<text transform="translate(621.5 139.6) scale(0.94 1)" text-anchor="middle" font-size="17" fill="#666">13</text>
<text transform="translate(524.5 140.2) scale(0.94 1)" text-anchor="middle" font-size="17" fill="#222" stroke="#222" stroke-width="0.18">14</text>
<text transform="translate(487 140.2) scale(0.94 1)" text-anchor="middle" font-size="17" fill="#222" stroke="#222" stroke-width="0.18">15</text>
<text transform="translate(447.5 140.2) scale(0.94 1)" text-anchor="middle" font-size="17" fill="#222" stroke="#222" stroke-width="0.18">16</text>
<text transform="translate(403.5 140.2) scale(0.94 1)" text-anchor="middle" font-size="17" fill="#888">17</text>
</g>
</svg>
</body></html>
